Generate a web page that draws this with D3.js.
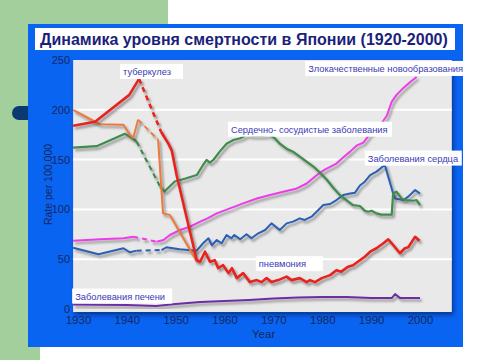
<!DOCTYPE html>
<html>
<head>
<meta charset="utf-8">
<script src="https://cdn.jsdelivr.net/npm/d3@7"></script>
<style>
  body { margin: 0; background: #fff; }
  svg { display: block; font-family: "Liberation Sans", Arial, sans-serif; }
</style>
</head>
<body>
<div id="chart"></div>
<script>
// tick values
var yTicks = [0, 50, 100, 150, 200, 250];
var xTicks = [1930, 1940, 1950, 1960, 1970, 1980, 1990, 2000];

// туберкулез (red)
var tbYears = [1929, 1933.5, 1940.5, 1942.5, 1947, 1948.5, 1949.2, 1950.2, 1954.3, 1955, 1956, 1957, 1958, 1958.7, 1959.7, 1960.8, 1961.5, 1962.5, 1963.8, 1965.2, 1966.6, 1967.6, 1968.6, 1969.6, 1971, 1972.7, 1973.7, 1975.4, 1976.8, 1977.5, 1978.5, 1979.9, 1981.6, 1982.9, 1983.9, 1985.3, 1986.3, 1987.7, 1988.7, 1989.8, 1991.1, 1992.5, 1993.5, 1994.2, 1995.9, 1996.9, 1997.6, 1999, 1999.9];
var tbValues = [184, 188, 215, 231, 178, 166, 159, 134, 49, 47.5, 57.5, 47.5, 49, 41, 44, 36, 41, 31, 36, 27, 29, 27, 31, 27, 29, 32.5, 29, 31, 27, 29, 27, 31, 34, 39, 37.5, 42.5, 44, 49, 52.5, 57.5, 61, 66, 70, 66, 56, 61, 62, 72.5, 68.5];
var tbGap = [1942.5, 1947];

// orange series
var orYears = [1929, 1933.5, 1934.5, 1939.3, 1940.6, 1941.3, 1942.3, 1946.4, 1947.4, 1948.8, 1954.3];
var orValues = [200, 188, 185.5, 185, 175, 172, 190, 170, 96, 94.5, 48];
var orGap = [1942.3, 1946.4];

// Сердечно- сосудистые заболевания (green)
var cvYears = [1929, 1933.8, 1939.6, 1941, 1942, 1946.8, 1947.7, 1949.8, 1952, 1954.3, 1955.6, 1956.3, 1957, 1957.7, 1959, 1960.4, 1961.8, 1963.2, 1964.5, 1965.9, 1967.6, 1969.3, 1970.3, 1971.3, 1972.7, 1974, 1975.4, 1976.8, 1978.2, 1979.5, 1980.9, 1982.2, 1983.6, 1985, 1986.3, 1987.7, 1988.7, 1989.4, 1990.1, 1991.1, 1992.1, 1994.2, 1994.5, 1995.2, 1996.2, 1997.2, 1998.6, 1999.3, 2000];
var cvValues = [162, 163.5, 176, 172, 168, 123, 118, 128, 131, 134.5, 144.6, 149.6, 147, 149.6, 158, 166, 169.7, 171.4, 174.7, 173.7, 173.7, 174.7, 171.4, 166, 161, 158, 153, 148, 143, 137, 130, 122, 114.5, 109, 104.4, 103.4, 98.7, 97.7, 98.7, 96, 94.7, 94.7, 116, 117.8, 111, 109.4, 108.7, 109.4, 104.4];
var cvGap = [1942, 1946.8];

// Заболевания сердца (blue)
var htYears = [1929, 1934.2, 1939.3, 1940.6, 1942, 1947.1, 1948.1, 1950.8, 1954.3, 1955.6, 1956.7, 1957.4, 1958.4, 1959.4, 1960.4, 1961.4, 1962, 1963.2, 1964.5, 1965.5, 1966.9, 1968.3, 1969.6, 1971.3, 1972.7, 1974, 1975.4, 1976.4, 1977.8, 1979.2, 1980.2, 1981.6, 1982.9, 1984.3, 1985.7, 1986.7, 1987.7, 1988.7, 1989.8, 1991.1, 1992.8, 1994.5, 1994.9, 1996.6, 1997.6, 1999, 2000];
var htValues = [61.5, 55, 61, 57, 58.6, 59.2, 62, 60, 58.6, 66, 71, 64, 69.3, 66, 74.3, 71, 74.3, 70, 75, 71, 76, 79.3, 86, 79.3, 86, 87.7, 91, 89.4, 92.7, 99.4, 104.4, 105.4, 109.4, 114.5, 116, 116.8, 124, 127.8, 134.5, 137.9, 144.6, 116, 111, 109.4, 112.8, 119.5, 116];
var htGap = [1942, 1947.1];

// Злокачественные новообразования (magenta)
var caYears = [1929, 1934.5, 1939.3, 1941.3, 1946.1, 1947.5, 1948.8, 1950.9, 1952.9, 1955, 1956.5, 1958.4, 1961.1, 1963.8, 1966.6, 1969.3, 1972, 1974.8, 1976.8, 1978.9, 1980.5, 1982.9, 1984.5, 1985.7, 1987, 1988.4, 1989.8, 1991.1, 1992.2, 1993.2, 1994.2, 1995.2, 1996.6, 1998, 1999.3];
var caValues = [68.6, 70, 71, 72.6, 67.6, 69.3, 74.3, 79.3, 82.6, 87.7, 91, 96, 101, 106, 111, 114.5, 117.8, 121, 126, 134.5, 140, 146, 153, 158, 164, 167, 176, 180, 187, 194, 208, 215, 222, 228, 233];
var caGap = [1941.3, 1946.1];

// Заболевания печени (purple)
var lvYears = [1929, 1940, 1946, 1950, 1955, 1960, 1965, 1970, 1975, 1980, 1985, 1990, 1994.2, 1994.9, 1995.9, 2000];
var lvValues = [4.5, 4, 3, 5, 7, 8, 9, 10.5, 11.5, 12, 12, 11, 11, 15, 11, 11];

var title = "Динамика уровня смертности в Японии (1920-2000)";
var labelNames = ["туберкулез", "Злокачественные новообразования", "Сердечно- сосудистые заболевания", "Заболевания сердца", "пневмония", "Заболевания печени"];

var svg = d3.select("#chart").append("svg")
    .attr("width", 480)
    .attr("height", 360)

// background decoration
svg.append("rect").attr("x", 0).attr("y", 0).attr("width", 168).attr("height", 40).attr("fill", "#a2cf9c")
svg.append("rect").attr("x", 0).attr("y", 0).attr("width", 40).attr("height", 360).attr("fill", "#a2cf9c")
svg.append("rect").attr("x", 28).attr("y", 24).attr("width", 435).attr("height", 323).attr("fill", "#0a64f2")
svg.append("path").attr("d", "M28,106 L19,106 A7,7 0 0 0 19,120 L28,120 Z").attr("fill", "#0b3a70")

// title box
svg.append("rect").attr("x", 35).attr("y", 28).attr("width", 420).attr("height", 22).attr("fill", "#fff")
svg.append("text")
    .attr("x", 40).attr("y", 45)
    .attr("font-size", "16px").attr("font-weight", "bold")
    .attr("fill", "#1c1f7c")
    .text(title)

var x = d3.scaleLinear().domain([1930, 2000]).range([78, 420]);
var y = d3.scaleLinear().domain([0, 250]).range([309, 60]);

var defs = svg.append("defs");
var f = defs.append("filter").attr("id", "shadow").attr("x", "-10%").attr("y", "-10%").attr("width", "130%").attr("height", "130%");
f.append("feDropShadow").attr("dx", 2).attr("dy", 2.5).attr("stdDeviation", 1.2)
    .attr("flood-color", "#444").attr("flood-opacity", 0.55);
var f2 = defs.append("filter").attr("id", "boxshadow").attr("x", "-5%").attr("y", "-5%").attr("width", "110%").attr("height", "110%");
f2.append("feDropShadow").attr("dx", 2).attr("dy", 3).attr("stdDeviation", 2)
    .attr("flood-color", "#001a55").attr("flood-opacity", 0.6);

// plot area
svg.append("rect")
    .attr("x", x(1929)).attr("y", y(250))
    .attr("width", x(2006.5) - x(1929)).attr("height", y(-3) - y(250))
    .attr("fill", "#e9e9e9")
    .attr("filter", "url(#boxshadow)")

svg.selectAll(".grid")
    .data(yTicks.filter(function (d) { return d > 0 && d < 250; }))
    .enter().append("line")
    .attr("x1", x(1929)).attr("x2", x(2006.5))
    .attr("y1", function (d) { return y(d); })
    .attr("y2", function (d) { return y(d); })
    .attr("stroke", "#fff").attr("stroke-width", 2)

// axes
var yAxis = svg.append("g")
    .attr("transform", "translate(" + (x(1929) - 1) + ",0)")
    .call(d3.axisLeft(y).tickValues(yTicks).tickSize(0).tickPadding(2))
yAxis.select(".domain").remove()
yAxis.selectAll("text").attr("font-size", "11px").attr("fill", "#14285e").attr("font-family", "Liberation Sans, Arial, sans-serif")

var xAxis = svg.append("g")
    .attr("transform", "translate(0," + y(-3) + ")")
    .call(d3.axisBottom(x).tickValues(xTicks).tickFormat(d3.format("d")).tickSize(0).tickPadding(4))
xAxis.select(".domain").remove()
xAxis.selectAll("text").attr("font-size", "11.5px").attr("fill", "#14285e").attr("font-family", "Liberation Sans, Arial, sans-serif")

svg.append("text")
    .attr("transform", "translate(52," + y(125) + ") rotate(-90)")
    .attr("text-anchor", "middle")
    .attr("font-size", "10.5px").attr("fill", "#14285e")
    .text("Rate per 100,000")
svg.append("text")
    .attr("x", 252).attr("y", 338)
    .attr("font-size", "11.5px").attr("fill", "#14285e")
    .text("Year")

var line = d3.line()
    .x(function (d) { return x(d[0]); })
    .y(function (d) { return y(d[1]); });

function drawSeries(years, values, gap, color, width) {
    var pts = years.map(function (yr, i) { return [yr, values[i]]; });
    var layer = svg.append("g").attr("filter", "url(#shadow)");
    if (!gap) {
        layer.append("path").attr("d", line(pts))
            .attr("fill", "none").attr("stroke", color).attr("stroke-width", width)
            .attr("stroke-linejoin", "round")
        return;
    }
    var before = pts.filter(function (d) { return d[0] <= gap[0]; });
    var mid = pts.filter(function (d) { return d[0] >= gap[0] && d[0] <= gap[1]; });
    var after = pts.filter(function (d) { return d[0] >= gap[1]; });
    [before, after].forEach(function (seg) {
        layer.append("path").attr("d", line(seg))
            .attr("fill", "none").attr("stroke", color).attr("stroke-width", width)
            .attr("stroke-linejoin", "round")
    });
    layer.append("path").attr("d", line(mid))
        .attr("fill", "none").attr("stroke", color).attr("stroke-width", width)
        .attr("stroke-dasharray", "5,4")
}

drawSeries(lvYears, lvValues, null, "#6c2ea6", 2);
drawSeries(caYears, caValues, caGap, "#ec3ce8", 2);
drawSeries(htYears, htValues, htGap, "#2b5fb4", 2);
drawSeries(cvYears, cvValues, cvGap, "#3f8d4c", 2.2);
drawSeries(orYears, orValues, orGap, "#ec7a3c", 2);
drawSeries(tbYears, tbValues, tbGap, "#e8231c", 2.6);

// series labels, anchored in data coordinates
var labelSpots = [
    { yr: 1938.6, v: 233, w: 63 },
    { yr: 1976.5, v: 236, w: 160 },
    { yr: 1960.7, v: 175, w: 164 },
    { yr: 1988.7, v: 146, w: 97 },
    { yr: 1966.4, v: 40, w: 67 },
    { yr: 1928.8, v: 7.5, w: 100 }
];
labelNames.forEach(function (name, i) {
    var s = labelSpots[i];
    var g = svg.append("g");
    g.append("rect")
        .attr("x", x(s.yr)).attr("y", y(s.v) - 13)
        .attr("width", s.w).attr("height", 15)
        .attr("fill", "#fff")
    g.append("text")
        .attr("x", x(s.yr) + 3).attr("y", y(s.v) - 2)
        .attr("font-size", "9.3px").attr("fill", "#3a3ab4")
        .text(name)
});
</script>
</body>
</html>
